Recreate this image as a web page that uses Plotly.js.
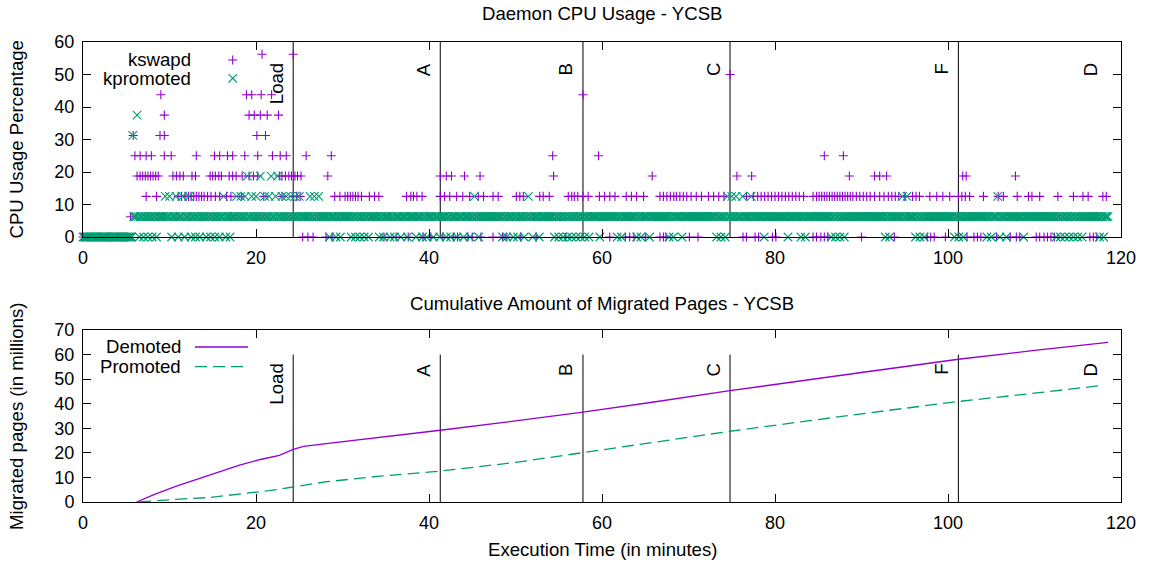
<!DOCTYPE html>
<html>
<head>
<meta charset="utf-8">
<script src="https://cdn.plot.ly/plotly-3.0.1.min.js"></script>
<style>html,body{margin:0;padding:0;background:#fff;}#chart{width:1150px;height:563px;}</style>
</head>
<body>
<div id="chart"></div>
<script>
// ---------------- DATA ----------------
// Sampling step (minutes) of the per-sample kpromoted record, and CPU quantum (100/16 %)
const DT = 0.125;
const LEVEL_STEP = 6.25;

// kpromoted CPU usage: one digit per sample (level * 6.25 %), 20 chars = 2.5 minutes
const kpromotedCodes = [
  "00000000000000000000","00000000000000000000","00000051116101110111","01110111011111112111", // 0-10
  "21011121011121011121","01110111011111011101","11011101112101110111","11211121112131112111", // 10-20
  "21113111211121311121","31112111211121112111","21111111112111211121","11111111011111011101", // 20-30
  "11111111011101110111","01110111111111011101","11110111011111011111","01111111011111011101", // 30-40
  "11110111110111110111","01111101111101111101","11211101111111111111","11111111011101111101", // 40-50
  "11011111011121110111","11011111111111110111","01110111011101110111","01110111011111111101", // 50-60
  "11111111111111011101","11111111111101110111","11110111111111111111","11011101111111011111", // 60-70
  "11111111111111111111","11111101110111012111","21112111112111111121","11111111110111111111", // 70-80
  "11111111111101111111","11110111011111111111","11111111111101110111","01110111111111111111", // 80-90
  "11111111111111111111","11011101111111111121","11211111110111011101","11111111111111111111", // 90-100
  "11111101110111011111","11111111111111110111","01111121011111011111","11111111110111111111", // 100-110
  "11111111111111111111","01110111011101110111","01110111111111111111","011101111"             // 110-118.5
];

// kswapd visible samples: times (minutes) at each CPU level (%)
const kswapdAt0 = [0, 1, 2, 3, 4, 5, 25.4, 26.0, 26.6, 28.1, 28.8, 34.8, 36.2, 37.6, 39.3, 40.2, 41.6, 42.8, 43.3, 44.5, 45.0, 46.0, 47.4, 48.5, 49.0, 50.6, 52.4, 55.8, 60.9, 62.7, 63.2, 63.7, 65.0, 66.7, 67.1, 67.4, 70.1, 71.1, 76.3, 76.7, 77.7, 78.1, 79.7, 80.1, 84.4, 84.8, 85.3, 85.7, 86.1, 90.0, 93.8, 97.6, 98.0, 98.4, 99.7, 102.2, 103.0, 103.4, 103.8, 105.6, 107.2, 107.9, 108.3, 110.2, 110.6, 111.1, 111.5, 111.9, 112.3, 116.4, 116.8, 117.2];
const kswapdAt6 = [5.5];
const kswapdAt12 = [7.3, 8.5, 11.0, 11.4, 11.8, 12.2, 12.5, 12.8, 13.1, 13.4, 13.7, 14.0, 14.4, 14.8, 15.3, 15.8, 16.6, 17.1, 18.3, 20.9, 23.0, 24.3, 24.7, 25.1, 29.1, 29.7, 30.3, 30.6, 30.9, 31.2, 31.5, 31.8, 32.2, 33.1, 33.7, 34.2, 37.4, 37.9, 38.2, 38.6, 39.2, 41.3, 41.8, 42.4, 43.2, 43.9, 44.7, 45.7, 46.3, 47.4, 48.0, 50.1, 50.5, 50.9, 52.8, 53.2, 53.9, 56.1, 56.5, 56.8, 57.2, 57.8, 58.4, 59.7, 60.3, 60.9, 61.5, 62.8, 63.4, 64.0, 64.8, 66.7, 67.1, 67.5, 67.9, 68.3, 68.6, 69.0, 69.4, 69.8, 70.3, 70.9, 71.5, 72.3, 72.9, 73.5, 74.1, 76.7, 77.5, 78.0, 78.4, 78.8, 79.2, 79.6, 80.0, 80.4, 80.8, 81.2, 81.6, 82.0, 82.4, 82.8, 83.3, 84.4, 84.8, 85.1, 85.4, 85.7, 86.0, 86.3, 86.6, 86.9, 87.2, 87.5, 87.8, 88.1, 88.4, 88.7, 89.0, 89.4, 89.8, 90.2, 90.6, 91.0, 91.5, 92.1, 92.6, 93.1, 93.5, 93.9, 94.3, 95.0, 95.9, 96.3, 96.7, 97.9, 98.7, 99.4, 100.2, 101.2, 101.6, 102.0, 102.5, 104.1, 105.8, 106.4, 108.0, 109.3, 109.7, 110.6, 112.7, 114.5, 115.6, 116.2, 117.9, 118.3];
const kswapdAt18 = [6.25, 6.6, 6.9, 7.2, 7.5, 7.8, 8.1, 8.4, 8.7, 10.4, 10.8, 11.2, 11.6, 12.6, 13.0, 14.7, 15.0, 15.3, 15.7, 16.0, 16.9, 17.3, 17.7, 18.4, 19.2, 19.7, 20.2, 22.7, 23.0, 23.4, 23.8, 24.1, 24.5, 24.8, 25.2, 28.3, 41.3, 42.0, 42.6, 44.1, 45.9, 54.4, 65.8, 75.6, 77.3, 88.6, 91.5, 92.1, 92.9, 101.7, 102.1, 107.8];
const kswapdAt25 = [6.0, 6.6, 7.3, 7.9, 9.4, 10.2, 13.1, 15.2, 15.8, 16.7, 17.3, 18.7, 20.2, 21.9, 22.8, 23.5, 25.8, 28.7, 54.3, 59.6, 85.7, 87.9];
const kswapdAt31 = [5.8, 8.9, 9.4, 20.1, 21.1];
const kswapdAt37 = [9.4, 19.2, 19.8, 20.5, 21.3, 22.6];
const kswapdAt43 = [9.0, 18.9, 19.5, 20.6, 21.8, 57.8];
const kswapdAt50 = [74.8];
const kswapdAt56 = [20.7, 24.3];

// Cumulative migrated pages (millions)
const demotedT = [6.2, 8.2, 10.8, 14.0, 18.1, 20.5, 22.7, 24.3, 25.5, 28.1, 34.3, 41.3, 50.0, 57.8, 66.0, 74.8, 90.0, 101.2, 110.0, 118.5];
const demotedV = [0, 3.0, 6.5, 10.3, 15.0, 17.3, 19.0, 21.4, 22.6, 23.8, 26.3, 29.2, 33.0, 36.6, 40.7, 45.3, 52.7, 58.1, 61.7, 65.0];
const promotedT = [6.5, 8.5, 10.8, 14.5, 18.9, 21.5, 24.3, 28.0, 34.3, 41.3, 50.0, 57.8, 66.0, 74.8, 90.0, 101.2, 110.0, 118.0];
const promotedV = [0, 0.6, 1.1, 1.8, 3.4, 4.6, 6.1, 8.2, 10.5, 12.6, 16.1, 20.0, 24.3, 28.8, 35.9, 40.9, 44.3, 47.5];

// YCSB phases (end time of each workload, minutes)
const phaseNames = ["Load", "A", "B", "C", "F", "D"];
const phaseEnd = [24.3, 41.3, 57.8, 74.8, 101.2, 118.4];
const phaseHasLine = [true, true, true, true, true, false];

const xTicks = [0, 20, 40, 60, 80, 100, 120];
const cpuTicks = [0, 10, 20, 30, 40, 50, 60];
const pagesTicks = [0, 10, 20, 30, 40, 50, 60, 70];

// ---------------- BUILD ----------------
const PURPLE = "#9400d3", GREEN = "#009e73";

const codes = kpromotedCodes.join("");
const kpT = [], kpV = [];
for (let i = 0; i < codes.length; i++) {
  kpT.push(+(i * DT).toFixed(3));
  kpV.push(Number(codes[i]) * LEVEL_STEP);
}

const kswapdLevels = [
  [0, kswapdAt0], [6.25, kswapdAt6], [12.5, kswapdAt12], [18.75, kswapdAt18],
  [25, kswapdAt25], [31.25, kswapdAt31], [37.5, kswapdAt37], [43.75, kswapdAt43],
  [50, kswapdAt50], [56.25, kswapdAt56]
];
const ksT = [], ksV = [];
kswapdLevels.forEach(([lvl, ts]) => ts.forEach(t => { ksT.push(t); ksV.push(lvl); }));

const traces = [
  { type: "scatter", mode: "markers", x: ksT, y: ksV, xaxis: "x", yaxis: "y", name: "kswapd", cliponaxis: false,
    marker: { symbol: "cross-thin", size: 6.5, color: PURPLE, line: { color: PURPLE, width: 1.1 } } },
  { type: "scatter", mode: "markers", x: kpT, y: kpV, xaxis: "x", yaxis: "y", name: "kpromoted", cliponaxis: false,
    marker: { symbol: "x-thin", size: 8.5, color: GREEN, line: { color: GREEN, width: 1.1 } } },
  { type: "scatter", mode: "lines", x: demotedT, y: demotedV, xaxis: "x2", yaxis: "y2", name: "Demoted",
    line: { color: PURPLE, width: 1.3 } },
  { type: "scatter", mode: "lines", x: promotedT, y: promotedV, xaxis: "x2", yaxis: "y2", name: "Promoted",
    line: { color: GREEN, width: 1.3, dash: "12px,6px" } }
];

const FONT = "Liberation Sans, Arial, Helvetica, sans-serif";
const LBL = 18.6;
const axisBase = {
  ticks: "inside", ticklen: 8, tickwidth: 1, tickcolor: "black",
  showline: true, linecolor: "black", linewidth: 1, mirror: "ticks",
  showgrid: false, zeroline: false, fixedrange: true,
  tickfont: { family: FONT, size: 18, color: "black" }
};

const shapes = [];
const annotations = [];
phaseNames.forEach((name, i) => {
  const t = phaseEnd[i];
  if (phaseHasLine[i]) {
    shapes.push({ type: "line", xref: "x", yref: "y", x0: t, x1: t, y0: 0, y1: 60, layer: "below", line: { color: "black", width: 1 } });
    shapes.push({ type: "line", xref: "x2", yref: "y2", x0: t, x1: t, y0: 0, y1: 60, layer: "below", line: { color: "black", width: 1 } });
  }
  annotations.push({ xref: "x", yref: "y", x: t, y: 54, text: name, textangle: -90, xanchor: "center", yanchor: "top", xshift: -17, showarrow: false, font: { family: FONT, size: LBL, color: "black" } });
  annotations.push({ xref: "x2", yref: "y2", x: t, y: 57, text: name, textangle: -90, xanchor: "center", yanchor: "top", xshift: -17, showarrow: false, font: { family: FONT, size: LBL, color: "black" } });
});

const txt = (text, x, y, extra) => Object.assign({ xref: "paper", yref: "paper", x, y, text, showarrow: false,
  font: { family: FONT, size: LBL, color: "black" } }, extra || {});

// titles
annotations.push(txt("Daemon CPU Usage - YCSB", 0.5, 1.0609, { xanchor: "center", yanchor: "middle" }));
annotations.push(txt("Cumulative Amount of Migrated Pages - YCSB", 0.5, 0.4326, { xanchor: "center", yanchor: "middle" }));
annotations.push(txt("Execution Time (in minutes)", 0.5, -0.1043, { xanchor: "center", yanchor: "middle" }));
annotations.push(txt("CPU Usage Percentage", -0.0636, 0.788, { xanchor: "center", yanchor: "middle", textangle: -90 }));
annotations.push(txt("Migrated pages (in millions)", -0.0636, 0.187, { xanchor: "center", yanchor: "middle", textangle: -90 }));

// legends (gnuplot style: text right-aligned, sample to the right)
annotations.push(txt("kswapd", 0.106, 0.9609, { xanchor: "right", yanchor: "middle" }));
annotations.push(txt("kpromoted", 0.106, 0.9211, { xanchor: "right", yanchor: "middle" }));
annotations.push(txt("Demoted", 0.0963, 0.337, { xanchor: "right", yanchor: "middle" }));
annotations.push(txt("Promoted", 0.0963, 0.2941, { xanchor: "right", yanchor: "middle" }));

const lx = 0.1442, pxX = 1 / 1038, pxY = 1 / 460;
// + symbol
shapes.push({ type: "line", xref: "paper", yref: "paper", x0: lx - 4.5 * pxX, x1: lx + 4.5 * pxX, y0: 0.9609, y1: 0.9609, line: { color: PURPLE, width: 1.1 } });
shapes.push({ type: "line", xref: "paper", yref: "paper", x0: lx, x1: lx, y0: 0.9609 - 4.5 * pxY, y1: 0.9609 + 4.5 * pxY, line: { color: PURPLE, width: 1.1 } });
// x symbol
shapes.push({ type: "line", xref: "paper", yref: "paper", x0: lx - 4.2 * pxX, x1: lx + 4.2 * pxX, y0: 0.9211 - 4.2 * pxY, y1: 0.9211 + 4.2 * pxY, line: { color: GREEN, width: 1.1 } });
shapes.push({ type: "line", xref: "paper", yref: "paper", x0: lx - 4.2 * pxX, x1: lx + 4.2 * pxX, y0: 0.9211 + 4.2 * pxY, y1: 0.9211 - 4.2 * pxY, line: { color: GREEN, width: 1.1 } });
// line samples
shapes.push({ type: "line", xref: "paper", yref: "paper", x0: 0.1079, x1: 0.159, y0: 0.337, y1: 0.337, line: { color: PURPLE, width: 1.3 } });
shapes.push({ type: "line", xref: "paper", yref: "paper", x0: 0.1079, x1: 0.159, y0: 0.2941, y1: 0.2941, line: { color: GREEN, width: 1.3, dash: "12px,6px" } });

const layout = {
  width: 1150, height: 563,
  margin: { l: 83, r: 29, t: 42, b: 61, pad: 0 },
  paper_bgcolor: "white", plot_bgcolor: "white",
  showlegend: false,
  font: { family: FONT, size: 18, color: "black" },
  xaxis: Object.assign({}, axisBase, { domain: [0, 1], anchor: "y", range: [0, 120], tickvals: xTicks, ticklabelstandoff: 4 }),
  yaxis: Object.assign({}, axisBase, { domain: [0.5761, 1], anchor: "x", range: [0, 60], tickvals: cpuTicks, ticklabelstandoff: 4 }),
  xaxis2: Object.assign({}, axisBase, { domain: [0, 1], anchor: "y2", range: [0, 120], tickvals: xTicks, ticklabelstandoff: 4 }),
  yaxis2: Object.assign({}, axisBase, { domain: [0, 0.3739], anchor: "x2", range: [0, 70], tickvals: pagesTicks, ticklabelstandoff: 4 }),
  shapes, annotations
};

Plotly.newPlot("chart", traces, layout, { displayModeBar: false, staticPlot: true });
</script>
</body>
</html>
